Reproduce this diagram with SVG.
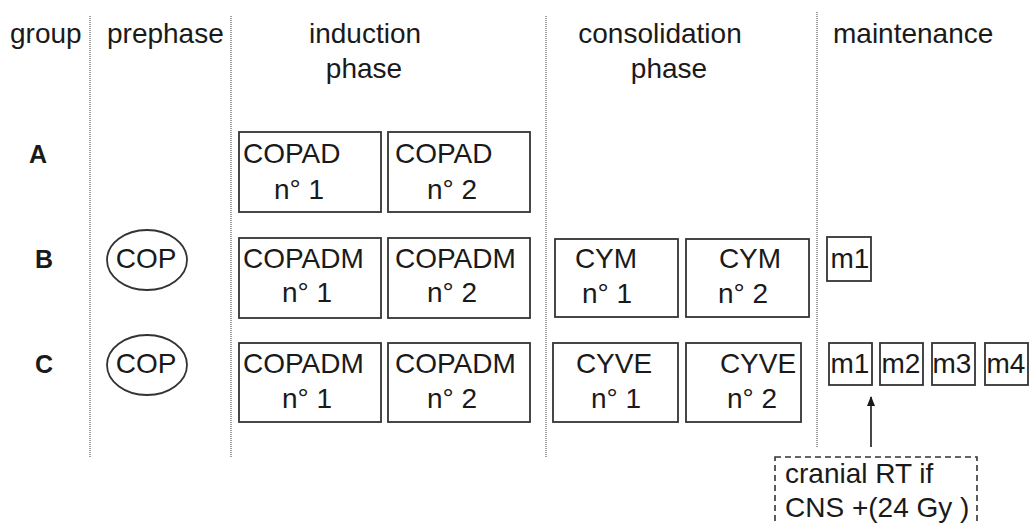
<svg xmlns="http://www.w3.org/2000/svg" width="1029" height="524" viewBox="0 0 1029 524">
<defs>
<style>
text{font-family:"Liberation Sans",Arial,sans-serif;font-size:28px;fill:#1a1a1a}
.g{font-weight:bold;font-size:25px}
.box{fill:#fff;stroke:#333;stroke-width:1.8}
.div{stroke:#888;stroke-width:1.6;stroke-dasharray:1 1;fill:none}
.dash{fill:none;stroke:#333;stroke-width:1.6;stroke-dasharray:6 4}
</style>
<marker id="ah" viewBox="0 0 10 10" refX="9" refY="5" markerWidth="10" markerHeight="10" markerUnits="userSpaceOnUse" orient="auto">
<path d="M0,1 L10,5 L0,9 Z" fill="#1a1a1a"/>
</marker>
</defs>
<rect width="1029" height="524" fill="#fff"/>
<g id="dividers">
<line class="div" x1="90" y1="16" x2="90" y2="457"/>
<line class="div" x1="231" y1="16" x2="231" y2="457"/>
<line class="div" x1="546" y1="16" x2="546" y2="457"/>
<line class="div" x1="817" y1="12" x2="817" y2="447"/>
</g>
<g id="headers">
<text x="10" y="43">group</text>
<text x="107" y="43">prephase</text>
<text x="365" y="43" text-anchor="middle">induction</text>
<text x="364" y="78" text-anchor="middle">phase</text>
<text x="660" y="43" text-anchor="middle">consolidation</text>
<text x="669" y="78" text-anchor="middle">phase</text>
<text x="833" y="43">maintenance</text>
</g>
<g id="groups">
<text class="g" x="29" y="163">A</text>
<text class="g" x="35" y="268">B</text>
<text class="g" x="35" y="373">C</text>
</g>
<g id="A-copad1"><rect class="box" x="239" y="132" width="142" height="80"/><text x="243" y="163">COPAD</text><text x="299" y="199" text-anchor="middle">n° 1</text></g>
<g id="A-copad2"><rect class="box" x="388" y="132" width="142" height="80"/><text x="395" y="163">COPAD</text><text x="452" y="199" text-anchor="middle">n° 2</text></g>
<g id="B-cop"><ellipse class="box" cx="147" cy="260" rx="40" ry="30"/><text x="146" y="268" text-anchor="middle">COP</text></g>
<g id="B-copadm1"><rect class="box" x="239" y="238" width="142" height="80"/><text x="243" y="268">COPADM</text><text x="307" y="302" text-anchor="middle">n° 1</text></g>
<g id="B-copadm2"><rect class="box" x="388" y="238" width="142" height="80"/><text x="395" y="268">COPADM</text><text x="452" y="302" text-anchor="middle">n° 2</text></g>
<g id="B-cym1"><rect class="box" x="555" y="239" width="123" height="78"/><text x="606" y="268" text-anchor="middle">CYM</text><text x="607" y="303" text-anchor="middle">n° 1</text></g>
<g id="B-cym2"><rect class="box" x="686" y="239" width="123" height="78"/><text x="750" y="268" text-anchor="middle">CYM</text><text x="743" y="303" text-anchor="middle">n° 2</text></g>
<g id="B-m1"><rect class="box" x="827" y="237" width="44" height="44"/><text x="850" y="268" text-anchor="middle">m1</text></g>
<g id="C-cop"><ellipse class="box" cx="147" cy="365" rx="40" ry="30"/><text x="146" y="373" text-anchor="middle">COP</text></g>
<g id="C-copadm1"><rect class="box" x="239" y="343" width="142" height="79"/><text x="243" y="373">COPADM</text><text x="307" y="408" text-anchor="middle">n° 1</text></g>
<g id="C-copadm2"><rect class="box" x="388" y="343" width="142" height="79"/><text x="395" y="373">COPADM</text><text x="452" y="408" text-anchor="middle">n° 2</text></g>
<g id="C-cyve1"><rect class="box" x="553" y="343" width="125" height="79"/><text x="614" y="373" text-anchor="middle">CYVE</text><text x="616" y="408" text-anchor="middle">n° 1</text></g>
<g id="C-cyve2"><rect class="box" x="686" y="343" width="115" height="79"/><text x="758" y="373" text-anchor="middle">CYVE</text><text x="752" y="408" text-anchor="middle">n° 2</text></g>
<g id="C-m1"><rect class="box" x="829" y="343" width="43" height="42"/><text x="850" y="373" text-anchor="middle">m1</text></g>
<g id="C-m2"><rect class="box" x="880" y="343" width="43" height="42"/><text x="901" y="373" text-anchor="middle">m2</text></g>
<g id="C-m3"><rect class="box" x="932" y="343" width="43" height="42"/><text x="952" y="373" text-anchor="middle">m3</text></g>
<g id="C-m4"><rect class="box" x="985" y="343" width="43" height="42"/><text x="1006" y="373" text-anchor="middle">m4</text></g>
<g id="note"><rect class="dash" x="775" y="457" width="202" height="80"/><text x="785" y="483">cranial RT if</text><text x="785" y="517">CNS +(24 Gy )</text></g>
<g id="connectors">
<line x1="871" y1="447" x2="871" y2="397" stroke="#1a1a1a" stroke-width="1.6" marker-end="url(#ah)"/>
</g>
</svg>
